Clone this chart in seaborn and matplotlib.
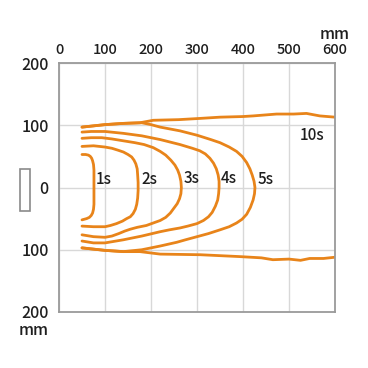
import matplotlib
matplotlib.use("Agg")
import matplotlib.pyplot as plt
import seaborn as sns
import pandas as pd
from matplotlib.patches import Rectangle

# ---- data (mm) ----
x_1s = [50, 58, 64, 68, 71, 73, 75, 76, 76, 76, 76, 76, 75, 73, 70, 66, 60, 55, 50]
y_1s = [53, 53, 52, 50, 47, 43, 37, 28, 15, 0, -15, -27, -35, -41, -45, -48, -50, -51, -52]

x_2s = [50, 75, 100, 115, 128, 140, 150, 158, 163, 167, 170, 171, 172, 172, 171, 169, 166, 161, 155, 147, 138, 125, 112, 100, 75, 50]
y_2s = [66, 67, 65, 63, 60, 57, 53, 49, 44, 38, 30, 20, 8, -5, -17, -27, -35, -42, -47, -50, -54, -58, -61, -63, -63, -62]

x_3s = [50, 70, 93, 115, 140, 165, 185, 205, 220, 232, 243, 252, 258, 262, 265, 266, 265, 262, 257, 250, 242, 232, 220, 205, 190, 170, 155, 143, 130, 115, 100, 75, 50]
y_3s = [79, 80, 80, 78, 75, 72, 69, 64, 58, 52, 44, 36, 28, 20, 10, 0, -10, -18, -26, -33, -41, -48, -53, -57, -61, -64, -67, -70, -74, -78, -80, -79, -76]

x_4s = [50, 70, 100, 140, 180, 220, 263, 290, 306, 318, 328, 336, 342, 346, 348, 348, 347, 345, 340, 333, 325, 314, 300, 280, 263, 240, 220, 180, 140, 100, 75, 50]
y_4s = [89, 90, 90, 87, 83, 77, 69, 63, 59, 54, 47, 39, 30, 20, 10, 0, -10, -20, -30, -40, -47, -53, -58, -62, -65, -68, -71, -78, -84, -89, -89, -86]

x_5s = [50, 100, 140, 180, 200, 220, 263, 300, 330, 350, 370, 386, 398, 408, 415, 420, 424, 426, 425, 422, 416, 408, 398, 386, 370, 350, 325, 300, 275, 256, 220, 200, 180, 140, 100, 50]
y_5s = [97, 101, 103, 104, 101, 97, 91, 84, 77, 72, 65, 58, 50, 40, 30, 20, 10, 0, -10, -20, -32, -43, -51, -57, -63, -68, -74, -79, -84, -88, -94, -97, -100, -103, -101, -97]

x_10s_top = [50, 100, 140, 176, 205, 260, 307, 350, 400, 422, 473, 510, 538, 567, 600]
y_10s_top = [97, 101, 103, 104, 108, 109, 111, 113, 114, 115, 118, 118, 119, 115, 113]
x_10s_bot = [50, 100, 140, 176, 220, 307, 393, 440, 465, 500, 525, 545, 575, 600]
y_10s_bot = [-97, -101, -103, -103, -107, -108, -111, -113, -116, -115, -117, -114, -114, -112]

label_text = ["1s", "2s", "3s", "4s", "5s", "10s"]
label_x = [97, 196, 288, 368, 450, 550]
label_y = [13, 13, 15, 15, 13, 84]

x_ticks = [0, 100, 200, 300, 400, 500, 600]
y_ticks = [-200, -100, 0, 100, 200]
y_tick_labels = ["200", "100", "0", "100", "200"]

# ---- build long table ----
rows = []
series = [("1s", x_1s, y_1s), ("2s", x_2s, y_2s), ("3s", x_3s, y_3s),
          ("4s", x_4s, y_4s), ("5s", x_5s, y_5s),
          ("10s_top", x_10s_top, y_10s_top), ("10s_bot", x_10s_bot, y_10s_bot)]
for name, xs, ys in series:
    for i, (xv, yv) in enumerate(zip(xs, ys)):
        rows.append({"curve": name, "order": i, "x": xv, "y": yv})
df = pd.DataFrame(rows)

sns.set_theme(style="white")
plt.rcParams["font.family"] = ["Noto Sans CJK JP", "DejaVu Sans"]

ORANGE = "#E8841A"
TXT = "#1e1e1e"
fig = plt.figure(figsize=(3.68, 3.68), dpi=100)
ax = fig.add_axes([59/368, 1-312/368, 276/368, 249/368])

sns.lineplot(data=df, x="x", y="y", units="curve", estimator=None, sort=False,
             color=ORANGE, linewidth=2.0, ax=ax, legend=False)
for line in ax.lines:
    line.set_solid_capstyle("round")
    line.set_solid_joinstyle("round")

ax.set_xlim(0, 600)
ax.set_ylim(-200, 200)
ax.set_xticks(x_ticks)
ax.set_xticklabels([str(v) for v in x_ticks])
ax.set_yticks(y_ticks)
ax.set_yticklabels(y_tick_labels)
ax.xaxis.tick_top()
ax.tick_params(axis="x", length=0, pad=4, labelsize=10.5, labelcolor=TXT)
ax.tick_params(axis="y", length=0, pad=7.5, labelsize=11.5, labelcolor=TXT)
for lab in ax.get_xticklabels() + ax.get_yticklabels():
    lab.set_fontweight("medium")
ax.set_xlabel("")
ax.set_ylabel("")
ax.grid(True, color="#d8d8d8", linewidth=1.0)
ax.set_axisbelow(True)
for s in ax.spines.values():
    s.set_color("#9a9a9a")
    s.set_linewidth(1.3)

for t, lx, ly in zip(label_text, label_x, label_y):
    ax.text(lx, ly, t, ha="center", va="center", fontsize=11, color=TXT,
            fontweight="medium")

fig.text(335/368, 1-39/368, "mm", ha="center", va="baseline", fontsize=11.5,
         color=TXT, fontweight="medium")
fig.text(48.5/368, 1-335/368, "mm", ha="right", va="baseline", fontsize=11.5,
         color=TXT, fontweight="medium")

fig.patches.append(Rectangle((19.5/368, 1-210.5/368), 10.5/368, 42/368,
                             transform=fig.transFigure, facecolor="white",
                             edgecolor="#8a8a8a", linewidth=1.2))

fig.savefig("out.png", dpi=100, facecolor="white")
